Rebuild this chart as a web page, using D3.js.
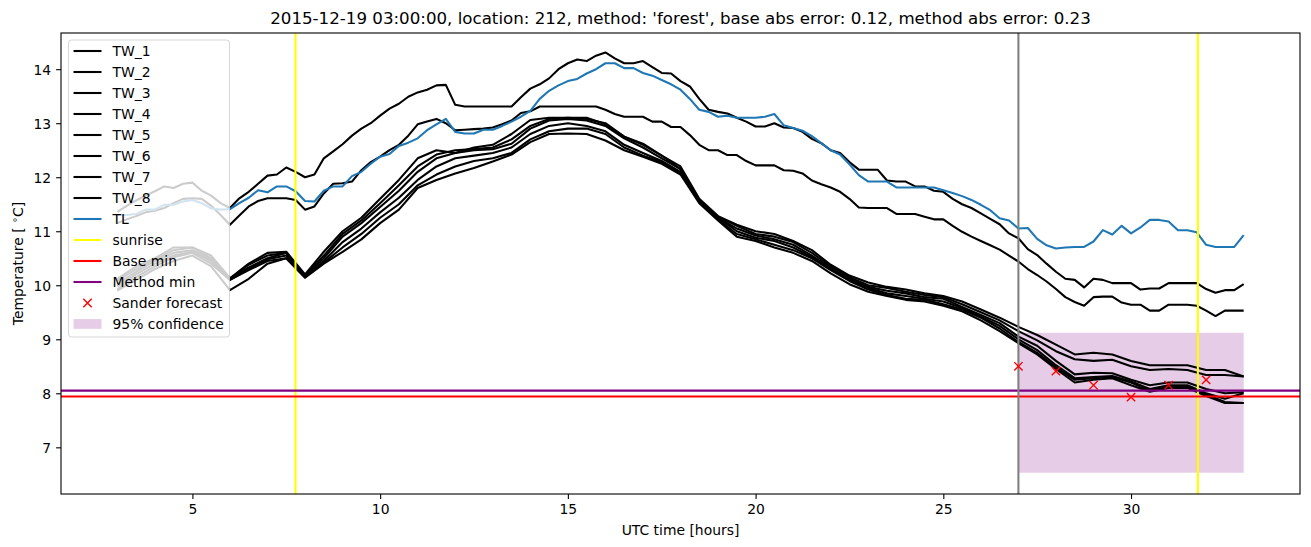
<!DOCTYPE html>
<html><head><meta charset="utf-8">
<script src="https://cdn.jsdelivr.net/npm/d3@7"></script>
<style>body{margin:0;background:#fff}svg{display:block;font-family:"DejaVu Sans",sans-serif}</style>
</head><body><svg id="c" width="1311" height="547"></svg>
<script>
// ---- data ----
// quarter-hour grid (TW_1, TW_2, TL)
const hoursQ = [
 3,3.25,3.5,3.75, 4,4.25,4.5,4.75, 5,5.25,5.5,5.75, 6,6.25,6.5,6.75, 7,7.25,7.5,7.75,
 8,8.25,8.5,8.75, 9,9.25,9.5,9.75, 10,10.25,10.5,10.75, 11,11.25,11.5,11.75, 12,12.25,12.5,12.75,
 13,13.25,13.5,13.75, 14,14.25,14.5,14.75, 15,15.25,15.5,15.75, 16,16.25,16.5,16.75, 17,17.25,17.5,17.75,
 18,18.25,18.5,18.75, 19,19.25,19.5,19.75, 20,20.25,20.5,20.75, 21,21.25,21.5,21.75, 22,22.25,22.5,22.75,
 23,23.25,23.5,23.75, 24,24.25,24.5,24.75, 25,25.25,25.5,25.75, 26,26.25,26.5,26.75, 27,27.25,27.5,27.75,
 28,28.25,28.5,28.75, 29,29.25,29.5,29.75, 30,30.25,30.5,30.75, 31,31.25,31.5,31.75, 32,32.25,32.5,32.75, 33];
const tw1 = [
 11.36,11.47,11.57,11.66, 11.74,11.83,11.8,11.88, 11.9,11.75,11.66,11.52, 11.43,11.61,11.73,11.88, 12.03,12.05,12.18,12.1,
 12.0,12.05,12.35,12.48, 12.61,12.77,12.9,13.0, 13.14,13.27,13.36,13.49, 13.57,13.62,13.7,13.71, 13.34,13.31,13.31,13.31,
 13.31,13.31,13.31,13.48, 13.64,13.72,13.83,14.0, 14.11,14.18,14.15,14.25, 14.31,14.2,14.11,14.11, 14.15,14.04,13.93,13.92,
 13.78,13.68,13.45,13.25, 13.21,13.18,13.1,13.03, 12.94,12.94,13.0,12.92, 12.91,12.84,12.71,12.63, 12.5,12.45,12.28,12.14,
 12.14,12.14,11.94,11.92, 11.92,11.83,11.83,11.75, 11.73,11.6,11.5,11.43, 11.33,11.23,11.13,10.96, 10.87,10.67,10.56,10.4,
 10.25,10.12,10.1,9.96, 10.12,10.1,10.04,10.04, 10.04,9.92,9.94,9.94, 10.04,10.04,10.04,10.04, 9.93,9.86,9.91,9.91, 10.02];
const tw2 = [
 11.15,11.22,11.28,11.35, 11.38,11.43,11.52,11.6, 11.61,11.6,11.47,11.3, 11.12,11.29,11.46,11.56, 11.61,11.61,11.61,11.58,
 11.4,11.46,11.7,11.88, 11.89,11.92,12.13,12.28, 12.38,12.5,12.6,12.77, 12.98,13.03,13.08,13.0, 12.87,12.88,12.89,12.9,
 12.92,12.98,13.05,13.19, 13.22,13.31,13.31,13.31, 13.31,13.31,13.31,13.31, 13.25,13.17,13.12,13.12, 13.12,13.03,13.03,12.93,
 12.93,12.78,12.6,12.5, 12.5,12.41,12.41,12.3, 12.22,12.22,12.22,12.13, 12.12,12.07,11.94,11.87, 11.81,11.73,11.6,11.44,
 11.43,11.43,11.43,11.32, 11.32,11.32,11.27,11.22, 11.22,11.1,10.99,10.9, 10.82,10.74,10.66,10.55, 10.44,10.3,10.19,10.07,
 9.93,9.78,9.69,9.62, 9.78,9.79,9.79,9.68, 9.64,9.64,9.53,9.53, 9.64,9.64,9.64,9.62, 9.53,9.43,9.53,9.53, 9.53];
const tl = [
 11.3,11.3,11.32,11.4, 11.4,11.49,11.49,11.55, 11.58,11.52,11.42,11.4, 11.41,11.52,11.62,11.76, 11.72,11.83,11.83,11.74,
 11.56,11.55,11.75,11.83, 11.83,12.02,12.1,12.25, 12.38,12.43,12.58,12.64, 12.72,12.87,12.98,13.08, 12.84,12.81,12.81,12.88,
 12.88,12.95,13.03,13.12, 13.23,13.45,13.6,13.7, 13.78,13.82,13.92,14.0, 14.11,14.11,14.02,14.02, 13.93,13.88,13.8,13.72,
 13.62,13.45,13.25,13.21, 13.12,13.14,13.1,13.1, 13.1,13.12,13.17,12.96, 12.91,12.86,12.76,12.63, 12.5,12.42,12.24,12.04,
 11.92,11.92,11.92,11.81, 11.81,11.81,11.81,11.81, 11.76,11.71,11.65,11.58, 11.49,11.39,11.24,11.2, 11.05,11.06,10.86,10.74,
 10.68,10.7,10.71,10.71, 10.81,11.02,10.94,11.1, 10.96,11.07,11.21,11.21, 11.18,11.02,11.02,10.98, 10.75,10.71,10.71,10.71, 10.93];
// half-hour grid (TW_3 .. TW_8)
const hoursH = [3,3.5,4,4.5,5,5.5,6,6.5,7,7.5,8,8.5,9,9.5,10,10.5,11,11.5,12,12.5,13,13.5,14,14.5,15,15.5,16,16.5,17,17.5,18,18.5,19,19.5,20,20.5,21,21.5,22,22.5,23,23.5,24,24.5,25,25.5,26,26.5,27,27.5,28,28.5,29,29.5,30,30.5,31,31.5,32,32.5,33];
const tw3 = [10.12,10.35,10.5,10.7,10.7,10.55,10.13,10.4,10.6,10.62,10.2,10.62,11.0,11.25,11.6,11.95,12.35,12.5,12.45,12.55,12.6,12.8,13.06,13.1,13.1,13.1,12.98,12.75,12.62,12.4,12.2,11.6,11.28,11.12,11.0,10.95,10.82,10.65,10.38,10.18,10.05,9.97,9.92,9.85,9.8,9.7,9.55,9.4,9.23,9.08,8.9,8.72,8.75,8.72,8.6,8.52,8.52,8.52,8.43,8.43,8.31];
const tw4 = [10.08,10.3,10.48,10.65,10.7,10.5,10.12,10.38,10.55,10.6,10.18,10.55,10.95,11.2,11.52,11.85,12.2,12.42,12.5,12.52,12.55,12.7,12.95,13.08,13.1,13.08,13.0,12.75,12.6,12.4,12.15,11.58,11.27,11.1,10.95,10.9,10.8,10.6,10.35,10.15,10.0,9.95,9.88,9.82,9.78,9.65,9.5,9.35,9.15,8.98,8.78,8.63,8.6,8.62,8.5,8.43,8.45,8.43,8.34,8.34,8.31];
const tw5 = [10.02,10.25,10.45,10.6,10.65,10.48,10.12,10.33,10.5,10.6,10.17,10.5,10.9,11.15,11.45,11.75,12.1,12.35,12.45,12.5,12.52,12.62,12.9,13.05,13.08,13.05,12.95,12.72,12.55,12.35,12.15,11.56,11.25,11.05,10.92,10.85,10.75,10.55,10.32,10.12,9.97,9.9,9.85,9.78,9.75,9.6,9.45,9.3,9.05,8.88,8.6,8.35,8.38,8.37,8.25,8.15,8.2,8.2,8.08,8.0,8.02];
const tw6 = [9.98,10.2,10.4,10.55,10.62,10.45,10.1,10.3,10.48,10.55,10.16,10.45,10.8,11.05,11.35,11.62,11.95,12.2,12.35,12.4,12.45,12.55,12.8,12.95,13.0,12.95,12.85,12.6,12.45,12.3,12.1,11.55,11.25,11.0,10.88,10.82,10.7,10.52,10.3,10.1,9.95,9.85,9.8,9.75,9.7,9.58,9.42,9.25,9.0,8.8,8.52,8.28,8.3,8.32,8.22,8.08,8.15,8.15,8.0,7.9,8.0];
const tw7 = [9.93,10.15,10.35,10.52,10.6,10.4,10.1,10.28,10.45,10.5,10.15,10.42,10.7,10.95,11.25,11.5,11.85,12.05,12.2,12.3,12.35,12.45,12.7,12.85,12.9,12.9,12.8,12.55,12.4,12.28,12.08,11.55,11.22,10.95,10.85,10.75,10.65,10.5,10.28,10.08,9.92,9.82,9.75,9.73,9.65,9.55,9.4,9.2,8.95,8.75,8.48,8.25,8.28,8.3,8.2,8.05,8.12,8.12,7.98,7.84,7.82];
const tw8 = [9.9,10.1,10.3,10.45,10.55,10.35,9.91,10.12,10.4,10.5,10.14,10.4,10.62,10.85,11.15,11.4,11.8,11.95,12.07,12.17,12.29,12.42,12.65,12.8,12.81,12.8,12.68,12.5,12.38,12.25,12.05,11.52,11.2,10.9,10.82,10.7,10.6,10.45,10.22,10.02,9.88,9.8,9.73,9.7,9.62,9.52,9.35,9.15,8.93,8.72,8.45,8.2,8.25,8.28,8.15,8.03,8.1,8.1,7.95,7.82,7.82];
const twNames = ["TW_1","TW_2","TW_3","TW_4","TW_5","TW_6","TW_7","TW_8"];
const sunriseHours = [7.745, 31.78];
const forecastHour = 27;
const baseMin = 7.94;
const methodMin = 8.05;
const sanderHours = [27, 28, 29, 30, 31, 32];
const sanderValues = [8.50, 8.41, 8.15, 7.93, 8.15, 8.25];
const confHours = [27, 33];
const confLow = 6.53;
const confHigh = 9.12;
const xTicks = [5, 10, 15, 20, 25, 30];
const yTicks = [7, 8, 9, 10, 11, 12, 13, 14];
const title = "2015-12-19 03:00:00, location: 212, method: 'forest', base abs error: 0.12, method abs error: 0.23";

// ---- layout ----
const L = 61, R = 1300, T = 33, B = 494;
const FS = 13.9;
const svg = d3.select("#c");
const x = d3.scaleLinear().domain([1.5, 34.5]).range([L, R]);
const y = d3.scaleLinear().domain([6.136, 14.67]).range([B, T]);
const series = [
  {h: hoursQ, v: tw1}, {h: hoursQ, v: tw2}, {h: hoursH, v: tw3}, {h: hoursH, v: tw4},
  {h: hoursH, v: tw5}, {h: hoursH, v: tw6}, {h: hoursH, v: tw7}, {h: hoursH, v: tw8}
];

svg.append("defs").append("clipPath").attr("id","clip").append("rect")
  .attr("x", L).attr("y", T).attr("width", R - L).attr("height", B - T);
const plot = svg.append("g").attr("clip-path", "url(#clip)");

// confidence band
plot.append("rect")
  .attr("x", x(confHours[0])).attr("width", x(confHours[1]) - x(confHours[0]))
  .attr("y", y(confHigh)).attr("height", y(confLow) - y(confHigh))
  .attr("fill", "purple").attr("fill-opacity", 0.2);

const mkLine = hs => d3.line().x((d, i) => x(hs[i])).y(d => y(d));
series.forEach(s => {
  plot.append("path").attr("d", mkLine(s.h)(s.v)).attr("fill", "none")
    .attr("stroke", "black").attr("stroke-width", 2.08).attr("stroke-linejoin", "round");
});
plot.append("path").attr("d", mkLine(hoursQ)(tl)).attr("fill", "none")
  .attr("stroke", "#1f77b4").attr("stroke-width", 2.08).attr("stroke-linejoin", "round");

sunriseHours.forEach(h => {
  plot.append("line").attr("x1", x(h)).attr("x2", x(h)).attr("y1", T).attr("y2", B)
    .attr("stroke", "yellow").attr("stroke-width", 2.08);
});
plot.append("line").attr("x1", L).attr("x2", R).attr("y1", y(baseMin)).attr("y2", y(baseMin))
  .attr("stroke", "red").attr("stroke-width", 2.08);
plot.append("line").attr("x1", L).attr("x2", R).attr("y1", y(methodMin)).attr("y2", y(methodMin))
  .attr("stroke", "purple").attr("stroke-width", 2.08);
plot.append("line").attr("x1", x(forecastHour)).attr("x2", x(forecastHour)).attr("y1", T).attr("y2", B)
  .attr("stroke", "gray").attr("stroke-width", 2.08);

const ms = 4.17;
sanderHours.forEach((h, i) => {
  const cx = x(h), cy = y(sanderValues[i]);
  plot.append("path").attr("d", `M${cx-ms},${cy-ms}L${cx+ms},${cy+ms}M${cx-ms},${cy+ms}L${cx+ms},${cy-ms}`)
    .attr("stroke", "red").attr("stroke-width", 1.4).attr("fill", "none");
});

// ---- axes ----
const xa = svg.append("g").attr("transform", `translate(0,${B})`)
  .call(d3.axisBottom(x).tickValues(xTicks).tickSize(4.9).tickPadding(5.5).tickFormat(d3.format("d")));
const ya = svg.append("g").attr("transform", `translate(${L},0)`)
  .call(d3.axisLeft(y).tickValues(yTicks).tickSize(4.9).tickPadding(4.9).tickFormat(d3.format("d")));
[xa, ya].forEach(a => {
  a.select(".domain").remove();
  a.selectAll(".tick line").attr("stroke", "black").attr("stroke-width", 1.1);
  a.selectAll(".tick text").attr("font-size", FS).attr("font-family", "DejaVu Sans").attr("fill", "black");
});
ya.selectAll(".tick text").attr("dy", "0.36em");

svg.append("rect").attr("x", L).attr("y", T).attr("width", R - L).attr("height", B - T)
  .attr("fill", "none").attr("stroke", "black").attr("stroke-width", 1.1);

svg.append("text").attr("x", (L + R) / 2).attr("y", 24).attr("text-anchor", "middle")
  .attr("font-size", 16.67).text(title);
svg.append("text").attr("x", (L + R) / 2).attr("y", 535).attr("text-anchor", "middle")
  .attr("font-size", FS).text("UTC time [hours]");
const yl = svg.append("text").attr("transform", `translate(23,${(T + B) / 2}) rotate(-90)`)
  .attr("text-anchor", "middle").attr("font-size", FS);
yl.append("tspan").text("Temperature [ ");
yl.append("tspan").attr("font-size", FS * 0.7).attr("dy", -5).text("∘");
yl.append("tspan").attr("dy", 5).text("C]");

// ---- legend ----
const items = twNames.map(n => ({label: n, kind: "line", color: "black"}))
  .concat([
    {label: "TL", kind: "line", color: "#1f77b4"},
    {label: "sunrise", kind: "line", color: "yellow"},
    {label: "Base min", kind: "line", color: "red"},
    {label: "Method min", kind: "line", color: "purple"},
    {label: "Sander forecast", kind: "x", color: "red"},
    {label: "95% confidence", kind: "patch", color: "purple"}
  ]);
const lg = svg.append("g");
lg.append("rect").attr("x", 68.5).attr("y", 40).attr("width", 161).attr("height", 297).attr("rx", 3)
  .attr("fill", "white").attr("fill-opacity", 0.8).attr("stroke", "#cccccc").attr("stroke-opacity", 0.8);
items.forEach((it, i) => {
  const cy = 51 + 21 * i;
  if (it.kind === "line") {
    lg.append("line").attr("x1", 73.5).attr("x2", 101.5).attr("y1", cy).attr("y2", cy)
      .attr("stroke", it.color).attr("stroke-width", 2.08);
  } else if (it.kind === "x") {
    const cx = 87.5;
    lg.append("path").attr("d", `M${cx-ms},${cy-ms}L${cx+ms},${cy+ms}M${cx-ms},${cy+ms}L${cx+ms},${cy-ms}`)
      .attr("stroke", it.color).attr("stroke-width", 1.4);
  } else {
    lg.append("rect").attr("x", 73.5).attr("y", cy - 4.9).attr("width", 28).attr("height", 9.7)
      .attr("fill", it.color).attr("fill-opacity", 0.2);
  }
  lg.append("text").attr("x", 112.5).attr("y", cy + 5.1).attr("font-size", FS).text(it.label);
});
</script></body></html>
